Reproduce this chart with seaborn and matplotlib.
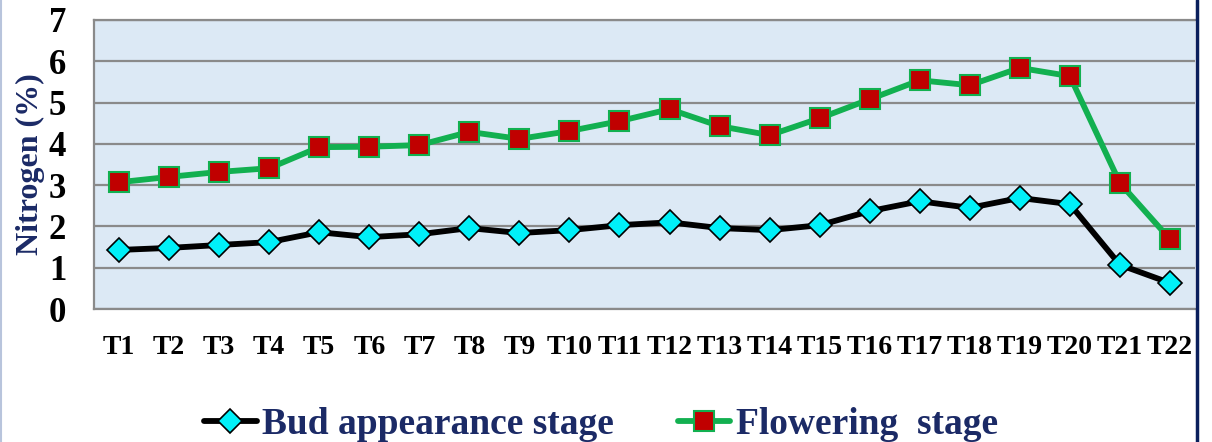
import numpy as np
import pandas as pd
import matplotlib
matplotlib.use("Agg")
import matplotlib.pyplot as plt
from matplotlib.lines import Line2D
import seaborn as sns

treatments = [f"T{i}" for i in range(1, 23)]
bud_stage = [1.43, 1.48, 1.55, 1.62, 1.86, 1.74, 1.81, 1.96, 1.84, 1.91, 2.03,
             2.10, 1.96, 1.91, 2.03, 2.37, 2.61, 2.45, 2.69, 2.54, 1.07, 0.63]
flowering_stage = [3.07, 3.20, 3.32, 3.41, 3.92, 3.93, 3.97, 4.29, 4.12, 4.31, 4.55,
                   4.84, 4.43, 4.21, 4.62, 5.08, 5.54, 5.42, 5.84, 5.64, 3.05, 1.69]
series_names = ["Bud appearance stage", "Flowering  stage"]
y_ticks = [0, 1, 2, 3, 4, 5, 6, 7]

sns.set_theme(style="white")
plt.rcParams["font.family"] = ["Liberation Serif", "DejaVu Serif"]
plt.rcParams["font.weight"] = "bold"

df = pd.DataFrame({
    "Treatment": treatments * 2,
    "Nitrogen": bud_stage + flowering_stage,
    "Stage": [series_names[0]] * len(treatments) + [series_names[1]] * len(treatments),
})

fig = plt.figure(figsize=(12.12, 4.42), dpi=100)
ax = fig.add_axes([94 / 1212, 1 - 309 / 442, (1195 - 94) / 1212, (309 - 20) / 442])
ax.set_facecolor("#dce9f5")

navy = "#1b2a66"
styles = {
    series_names[0]: dict(color="black", marker="D", markersize=12,
                          markerfacecolor="#00f0f8", markeredgecolor="black",
                          markeredgewidth=1.2),
    series_names[1]: dict(color="#12b050", marker="s", markersize=14,
                          markerfacecolor="#c00000", markeredgecolor="#12b050",
                          markeredgewidth=1.5),
}

for name in series_names:
    sub = df[df["Stage"] == name]
    sns.lineplot(data=sub, x="Treatment", y="Nitrogen", ax=ax, sort=False,
                 linewidth=4.2, label=name, zorder=3, **styles[name])

ax.set_xlim(-0.5, len(treatments) - 0.5)
ax.set_ylim(0, 7)
ax.set_yticks(y_ticks)
ax.set_yticklabels([str(t) for t in y_ticks], fontsize=25, fontweight="bold",
                   color="black")
ax.set_xticks(range(len(treatments)))
ax.set_xticklabels(treatments, fontsize=20, fontweight="bold", color="black")
ax.tick_params(axis="y", length=0, pad=20)
ax.tick_params(axis="x", length=0, pad=19)
ax.set_xlabel("")
ax.set_ylabel("Nitrogen (%)", fontsize=23, fontweight="bold", color=navy, labelpad=3)

ax.yaxis.grid(True, color="#8a8a8a", linewidth=1.6, zorder=1)
ax.set_axisbelow(True)
for side in ["left", "top", "bottom"]:
    ax.spines[side].set_color("#8a8a8a")
    ax.spines[side].set_linewidth(1.6)
ax.spines["right"].set_visible(False)

ax.get_legend().remove()
handles, labels = ax.get_legend_handles_labels()
fig.legend(handles, labels, loc="center", bbox_to_anchor=(601 / 1212, 1 - 425 / 442),
           ncol=2, frameon=False, handlelength=1.4, handletextpad=0.15,
           columnspacing=1.7, labelcolor=navy,
           prop={"weight": "bold", "size": 27})

# page frame edges
fig.add_artist(Line2D([0.0008, 0.0008], [0, 1], transform=fig.transFigure,
                      color="#b8c4dc", linewidth=1.5))
fig.add_artist(Line2D([1197 / 1212, 1197 / 1212], [0, 1], transform=fig.transFigure,
                      color="#0a1f5c", linewidth=2.5))

fig.savefig("out.png", dpi=100)
